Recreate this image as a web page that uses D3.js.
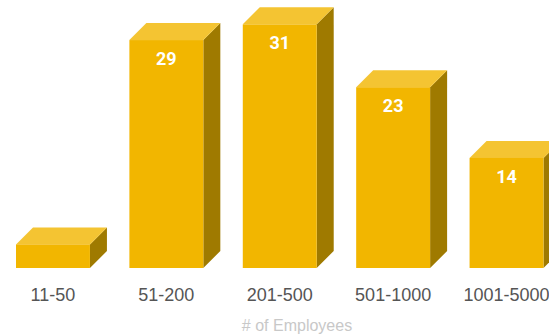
<!DOCTYPE html>
<html>
<head>
<meta charset="utf-8">
<script src="https://cdn.jsdelivr.net/npm/d3@7"></script>
<style>
  html, body { margin: 0; padding: 0; background: #fff; }
  svg { display: block; }
</style>
</head>
<body>
<svg id="chart" width="549" height="335"></svg>
<script>
// Share of companies by headcount band (%)
const categories = ["11-50", "51-200", "201-500", "501-1000", "1001-5000"];
const values = [3, 29, 31, 23, 14];
const axisTitle = "# of Employees";

const W = 549, H = 335;
const baseY = 268;       // floor line of the bar fronts
const depthX = 17;       // 3D extrusion to the right
const depthY = 17;       // 3D extrusion upward

const colors = {
  front: "#F2B600",
  top: "#F4C432",
  side: "#9F7A00"
};

const svg = d3.select("#chart");

const x = d3.scaleBand()
  .domain(categories)
  .range([16, 543.5])
  .paddingInner(0.348)
  .paddingOuter(0);

const y = d3.scaleLinear()
  .domain([0, 31])
  .range([baseY, baseY - 31 * 7.86]);

const data = categories.map((c, i) => ({ cat: c, val: values[i] }));

const bars = svg.append("g").attr("class", "bars")
  .selectAll("g")
  .data(data)
  .join("g");

// Right side face
bars.append("polygon")
  .attr("fill", colors.side)
  .attr("points", d => {
    const x1 = x(d.cat) + x.bandwidth();
    const yt = y(d.val);
    return [[x1, yt], [x1 + depthX, yt - depthY], [x1 + depthX, baseY - depthY], [x1, baseY]]
      .map(p => p.join(",")).join(" ");
  });

// Top face
bars.append("polygon")
  .attr("fill", colors.top)
  .attr("points", d => {
    const x0 = x(d.cat), x1 = x0 + x.bandwidth();
    const yt = y(d.val);
    return [[x0, yt], [x0 + depthX, yt - depthY], [x1 + depthX, yt - depthY], [x1, yt]]
      .map(p => p.join(",")).join(" ");
  });

// Front face
bars.append("rect")
  .attr("fill", colors.front)
  .attr("x", d => x(d.cat))
  .attr("y", d => y(d.val))
  .attr("width", x.bandwidth())
  .attr("height", d => baseY - y(d.val));

// Value labels inside the taller bars
bars.filter(d => d.val >= 10)
  .append("text")
  .attr("x", d => x(d.cat) + x.bandwidth() / 2)
  .attr("y", d => y(d.val) + 25)
  .attr("text-anchor", "middle")
  .attr("fill", "#ffffff")
  .attr("font-family", "Roboto, 'Liberation Sans', sans-serif")
  .attr("font-weight", 700)
  .attr("font-size", 18)
  .text(d => d.val);

// Category axis
const axis = svg.append("g")
  .attr("transform", `translate(0,${baseY})`)
  .call(d3.axisBottom(x).tickSize(0).tickPadding(20));
axis.select(".domain").remove();
axis.selectAll("text")
  .attr("fill", "#555555")
  .attr("font-family", "'Liberation Sans', Arial, sans-serif")
  .attr("font-size", 18);

// Axis title
svg.append("text")
  .attr("x", 297)
  .attr("y", 330.5)
  .attr("text-anchor", "middle")
  .attr("fill", "#c8c8c8")
  .attr("font-family", "'Liberation Sans', Arial, sans-serif")
  .attr("font-size", 16)
  .text(axisTitle);
</script>
</body>
</html>
